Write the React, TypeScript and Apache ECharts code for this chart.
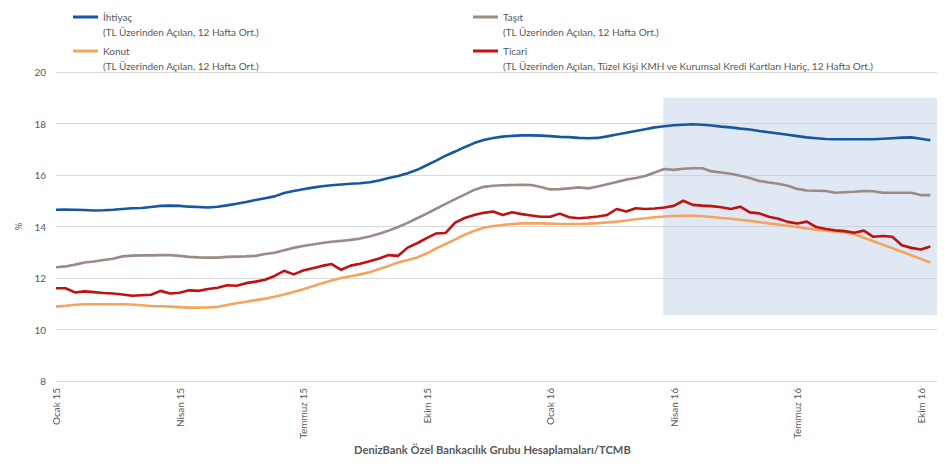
import React, { useEffect, useRef } from "react";
import * as echarts from "echarts";

const tickLabels = ["Ocak 15", "Nisan 15", "Temmuz 15", "Ekim 15", "Ocak 16", "Nisan 16", "Temmuz 16", "Ekim 16"];
const weeksPerTick = 13;

const ihtiyac = [
  14.65, 14.66, 14.65, 14.64, 14.62, 14.63, 14.65, 14.68, 14.71, 14.72,
  14.76, 14.8, 14.81, 14.8, 14.77, 14.76, 14.74, 14.77, 14.82, 14.88,
  14.95, 15.03, 15.1, 15.17, 15.3, 15.38, 15.45, 15.51, 15.56, 15.6,
  15.63, 15.66, 15.68, 15.72, 15.79, 15.88, 15.96, 16.07, 16.2, 16.38,
  16.56, 16.75, 16.91, 17.08, 17.24, 17.36, 17.44, 17.49, 17.52, 17.54,
  17.54, 17.53, 17.51, 17.48, 17.47, 17.44, 17.43, 17.44, 17.5, 17.57,
  17.64, 17.71, 17.78, 17.85, 17.89, 17.93, 17.95, 17.97, 17.95, 17.92,
  17.88, 17.85, 17.8, 17.77, 17.71, 17.66, 17.61, 17.56, 17.51, 17.46,
  17.43, 17.4, 17.39, 17.39, 17.39, 17.39, 17.39, 17.41, 17.43, 17.45,
  17.46, 17.41, 17.35,
];

const tasit = [
  12.42, 12.45, 12.52, 12.6, 12.64, 12.7, 12.75, 12.84, 12.87, 12.88,
  12.88, 12.89, 12.89, 12.86, 12.82, 12.8, 12.79, 12.79, 12.82, 12.83,
  12.84, 12.86, 12.93, 12.98, 13.08, 13.17, 13.24, 13.3, 13.36, 13.41,
  13.44, 13.48, 13.53, 13.61, 13.72, 13.84, 13.98, 14.14, 14.32, 14.5,
  14.69, 14.88, 15.06, 15.24, 15.42, 15.54, 15.58, 15.6, 15.61, 15.62,
  15.61, 15.53, 15.44, 15.45, 15.48, 15.52, 15.48, 15.55, 15.64, 15.73,
  15.82, 15.88, 15.96, 16.1, 16.23, 16.2, 16.24, 16.26, 16.26, 16.14,
  16.1, 16.05, 15.97, 15.88, 15.77, 15.71, 15.66, 15.58, 15.46, 15.4,
  15.39, 15.38, 15.31, 15.33, 15.35, 15.38, 15.37, 15.31, 15.31, 15.31,
  15.31, 15.22, 15.22,
];

const konut = [
  10.89, 10.92, 10.96, 10.98, 10.98, 10.98, 10.98, 10.98, 10.97, 10.94,
  10.91, 10.9, 10.89, 10.87, 10.85, 10.85, 10.86, 10.88, 10.95, 11.02,
  11.08, 11.14, 11.2, 11.27, 11.36, 11.46, 11.56, 11.68, 11.8, 11.9,
  12.0, 12.07, 12.14, 12.22, 12.35, 12.47, 12.6, 12.7, 12.8, 12.95,
  13.15, 13.32, 13.5, 13.68, 13.83, 13.95, 14.02, 14.06, 14.1, 14.12,
  14.13, 14.12, 14.11, 14.1, 14.1, 14.1, 14.11, 14.13, 14.16, 14.19,
  14.23, 14.28, 14.32, 14.36, 14.39, 14.41, 14.42, 14.42, 14.4, 14.37,
  14.33, 14.3, 14.26, 14.22, 14.17, 14.12, 14.08, 14.03, 13.98, 13.92,
  13.88, 13.84, 13.81, 13.78, 13.7, 13.56, 13.43, 13.29, 13.16, 13.02,
  12.88, 12.74, 12.6,
];

const ticari = [
  11.6, 11.6, 11.44, 11.48, 11.45, 11.42, 11.4, 11.36, 11.31, 11.33,
  11.35, 11.5, 11.4, 11.43, 11.52, 11.5, 11.57, 11.62, 11.72, 11.7,
  11.8, 11.86, 11.93, 12.08, 12.28, 12.14, 12.29, 12.38, 12.47, 12.54,
  12.32, 12.48, 12.55, 12.65, 12.76, 12.89, 12.86, 13.18, 13.35, 13.55,
  13.73, 13.75, 14.15, 14.33, 14.45, 14.53, 14.58, 14.45, 14.55, 14.48,
  14.43, 14.38, 14.38, 14.5, 14.36, 14.32, 14.35, 14.39, 14.45, 14.68,
  14.58, 14.71, 14.68, 14.7, 14.74, 14.8, 15.0, 14.84, 14.81, 14.79,
  14.75, 14.68, 14.77, 14.55, 14.51, 14.38, 14.3, 14.18, 14.12, 14.19,
  13.98, 13.9, 13.85, 13.82, 13.76, 13.84, 13.6, 13.63, 13.6, 13.27,
  13.17, 13.11, 13.22,
];

const seriesNames = ["İhtiyaç", "Konut", "Taşıt", "Ticari"];
const seriesSubtitles = [
  "(TL Üzerinden Açılan, 12 Hafta Ort.)",
  "(TL Üzerinden Açılan, 12 Hafta Ort.)",
  "(TL Üzerinden Açılan, 12 Hafta Ort.)",
  "(TL Üzerinden Açılan, Tüzel Kişi KMH ve Kurumsal Kredi Kartları Hariç, 12 Hafta Ort.)",
];
const seriesValues = [ihtiyac, konut, tasit, ticari];
const seriesColors = ["#1757a0", "#f5a45d", "#9c8b84", "#c0100f"];

// highlighted period: [start week index, end week index], [low %, high %]
const highlightX = [63.9, 92.7];
const highlightY = [10.56, 19.0];

const FONT = "Lato, 'Noto Sans', sans-serif";
const TXT = "#595959";

export default function App() {
  const ref = useRef<HTMLDivElement>(null);
  useEffect(() => {
    if (!ref.current) return;
    const chart = echarts.init(ref.current, undefined, { renderer: "svg" });
    const legendPos = [
      { left: 73, center: 17 },
      { left: 73, center: 51 },
      { left: 473, center: 17 },
      { left: 473, center: 51 },
    ];
    const lh = 14.5;
    const legends = seriesNames.map((n, i) => ({
      data: [n],
      left: legendPos[i].left,
      top: legendPos[i].center - (lh * 3) / 2,
      padding: 0,
      icon: "rect",
      itemWidth: 25,
      itemHeight: 3,
      selectedMode: false,
      // leading blank line puts the series name (middle line) level with the icon
      formatter: (name: string) => ` \n${name}\n${seriesSubtitles[seriesNames.indexOf(name)]}`,
      textStyle: {
        fontFamily: FONT,
        fontSize: 10,
        color: TXT,
        lineHeight: lh,
      },
    }));
    const series: any[] = seriesNames.map((n, i) => ({
      name: n,
      type: "line",
      data: seriesValues[i].map((v, k) => [k, v]),
      showSymbol: false,
      symbol: "none",
      lineStyle: { width: 2.6, color: seriesColors[i] },
      itemStyle: { color: seriesColors[i] },
      z: 3 + i,
    }));
    series[0].markArea = {
      silent: true,
      itemStyle: { color: "rgba(184,204,228,0.45)" },
      data: [[{ xAxis: highlightX[0], yAxis: highlightY[0] }, { xAxis: highlightX[1], yAxis: highlightY[1] }]],
    };
    chart.setOption({
      animation: false,
      backgroundColor: "#ffffff",
      textStyle: { fontFamily: FONT },
      legend: legends,
      title: {
        text: "DenizBank Özel Bankacılık Grubu Hesaplamaları/TCMB",
        left: 354,
        top: 444,
        padding: 0,
        textStyle: { fontFamily: FONT, fontSize: 11.2, fontWeight: "bold", color: TXT },
      },
      grid: { left: 56, right: 7, top: 72, bottom: 93 },
      xAxis: {
        type: "value",
        min: 0,
        max: 92.7,
        interval: weeksPerTick,
        axisLine: { show: false },
        axisTick: { show: false },
        splitLine: { show: false },
        axisLabel: {
          rotate: 90,
          margin: 7,
          fontSize: 10,
          fontFamily: FONT,
          color: TXT,
          showMaxLabel: false,
          formatter: (v: number) => {
            const k = v / weeksPerTick;
            return Number.isInteger(k) && tickLabels[k] ? tickLabels[k] : "";
          },
        },
      },
      yAxis: {
        type: "value",
        min: 8,
        max: 20,
        interval: 2,
        name: "%",
        nameLocation: "middle",
        nameRotate: 90,
        nameGap: 27,
        nameTextStyle: { fontFamily: FONT, fontSize: 10, color: TXT },
        axisLine: { show: false },
        axisTick: { show: false },
        axisLabel: { fontSize: 10, fontFamily: FONT, color: TXT, margin: 10 },
        splitLine: { lineStyle: { color: "#d9d9d9", width: 1 } },
      },
      series,
    });
    return () => chart.dispose();
  }, []);
  return <div ref={ref} style={{ width: 944, height: 474, position: "absolute", left: 0, top: 0 }} />;
}
